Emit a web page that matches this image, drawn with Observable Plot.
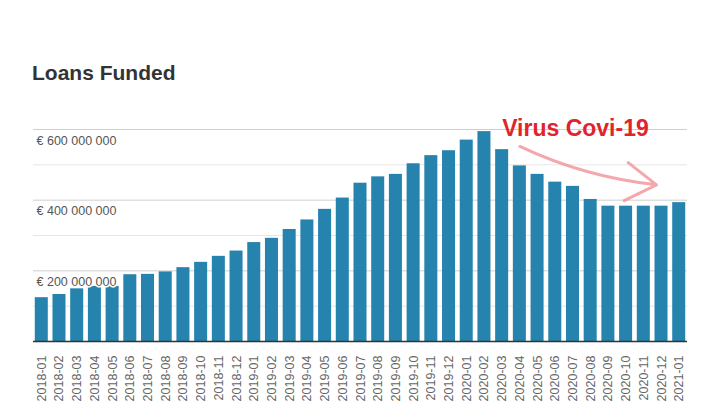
<!DOCTYPE html>
<html>
<head>
<meta charset="utf-8">
<script src="https://cdn.jsdelivr.net/npm/d3@7"></script>
<script src="https://cdn.jsdelivr.net/npm/@observablehq/plot@0.6"></script>
<style>
  html, body { margin: 0; padding: 0; background: #fff; }
  #wrap { position: relative; width: 716px; height: 411px; overflow: hidden; }
  #title { position: absolute; left: 32px; top: 60px; font: bold 21px "Liberation Sans", Arial, sans-serif; color: #333; line-height: 26px; }
  #chart { position: absolute; left: 0; top: 0; }
</style>
</head>
<body>
<div id="wrap">
  <div id="chart"></div>
  <div id="title">Loans Funded</div>
</div>
<script>
const months = [
  "2018-01","2018-02","2018-03","2018-04","2018-05","2018-06","2018-07","2018-08","2018-09","2018-10","2018-11","2018-12",
  "2019-01","2019-02","2019-03","2019-04","2019-05","2019-06","2019-07","2019-08","2019-09","2019-10","2019-11","2019-12",
  "2020-01","2020-02","2020-03","2020-04","2020-05","2020-06","2020-07","2020-08","2020-09","2020-10","2020-11","2020-12",
  "2021-01"
];
const loansMillions = [
  124, 133, 149, 156, 156, 189, 190, 197, 209, 224, 241, 256,
  280, 292, 317, 344, 374, 406, 448, 466, 473, 503, 526, 540,
  570, 594, 543, 497, 473, 451, 439, 402, 383, 383, 383, 383,
  393
];
const majorTicks = [200e6, 400e6, 600e6];
const minorTicks = [100e6, 300e6, 500e6];
const annotationText = "Virus Covi-19";
const annotationMonth = "2020-03";
const annotationValue = 603e6;
const arrowFrom = {month: "2020-04", value: 552e6};
const arrowTo = {month: "2020-12", value: 442e6};

const data = months.map((m, i) => ({month: m, value: loansMillions[i] * 1e6}));
const fmt = v => "€ " + d3.format(",")(v).replace(/,/g, " ");
const font = '"Liberation Sans", Arial, sans-serif';

const chart = Plot.plot({
  width: 716,
  height: 411,
  marginLeft: 33,
  marginRight: 29,
  marginTop: 129,
  marginBottom: 70,
  style: {fontFamily: font, background: "transparent", overflow: "visible"},
  x: {domain: months, paddingInner: 0.265, paddingOuter: 0.1, round: false, label: null},
  y: {domain: [0, 600e6], label: null, axis: null},
  marks: [
    Plot.ruleY(minorTicks, {stroke: "#e6e6e6", strokeWidth: 1}),
    Plot.ruleY(majorTicks, {stroke: "#cfcfcf", strokeWidth: 1}),
    Plot.barY(data, {x: "month", y: "value", fill: "#2683ae"}),
    Plot.ruleY([0], {stroke: "#333", strokeWidth: 1.5}),
    Plot.text(majorTicks, {
      y: d => d, text: d => fmt(d), frameAnchor: "left", textAnchor: "start",
      dx: 3, dy: 11, fontSize: 12.5, fill: "#555", stroke: "white", strokeWidth: 3,
      paintOrder: "stroke"
    }),
    Plot.axisX({tickRotate: -90, tickSize: 0, tickPadding: 14, fontSize: 12.5, fill: "#666", label: null}),
    Plot.arrow([{}], {
      x1: () => arrowFrom.month, y1: () => arrowFrom.value,
      x2: () => arrowTo.month, y2: () => arrowTo.value,
      bend: -10, headLength: 18, headAngle: 64, insetEnd: 5,
      stroke: "#f08a90", strokeOpacity: 0.75, strokeWidth: 3
    }),
    Plot.text([annotationText], {
      x: () => annotationMonth, y: () => annotationValue, text: d => d,
      textAnchor: "start", dx: 0, fontSize: 23, fontWeight: "bold", fill: "#e0242c"
    })
  ]
});
document.getElementById("chart").appendChild(chart);
</script>
</body>
</html>
